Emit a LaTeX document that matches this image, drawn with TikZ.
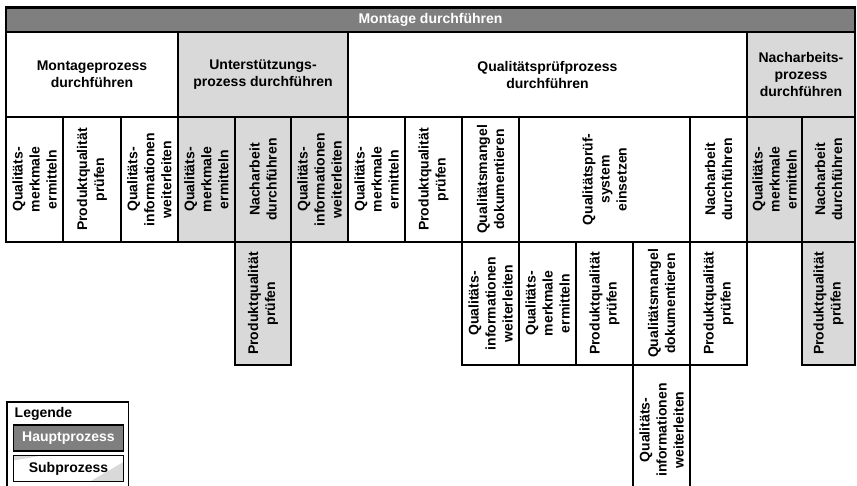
\documentclass[tikz,border=0pt]{standalone}
\usepackage{fontspec}
\setmainfont{Liberation Sans}
\definecolor{hauptgrau}{HTML}{7F7F7F}
\definecolor{subgrau}{HTML}{D9D9D9}

\tikzset{
  box/.style={draw=black, line width=1.7pt, inner sep=0pt, align=center,
              font=\bfseries\fontsize{14}{17}\selectfont},
  plain/.style={box, fill=white},
  shaded/.style={box, fill=subgrau},
  mainbar/.style={box, fill=hauptgrau, text=white},
}

% horizontal cell: name, style, x1, x2, y1, y2, text
\newcommand\hcell[7]{%
  \pgfmathsetmacro\cellcx{(#3+#4)/2}%
  \pgfmathsetmacro\cellcy{(#5+#6)/2}%
  \pgfmathsetmacro\cellw{#4-#3}%
  \pgfmathsetmacro\cellh{#6-#5}%
  \node[#2, minimum width=\cellw pt, minimum height=\cellh pt] (#1) at (\cellcx,\cellcy) {#7};}
% vertical cell with text read from bottom to top
\newcommand\vcell[7]{%
  \pgfmathsetmacro\cellcx{(#3+#4)/2}%
  \pgfmathsetmacro\cellcy{(#5+#6)/2}%
  \pgfmathsetmacro\cellw{#4-#3}%
  \pgfmathsetmacro\cellh{#6-#5}%
  \node[#2, rotate=90, minimum width=\cellh pt, minimum height=\cellw pt] (#1) at (\cellcx,\cellcy) {#7};}

\begin{document}
\begin{tikzpicture}[x=1pt, y=-1pt]
\useasboundingbox (0,0) rectangle (857,486);
\clip (0,0) rectangle (857,486);
\fill[white] (0,0) rectangle (857,486);

% level 1
\hcell{top}{mainbar}{6}{855}{8}{32}{Montage durchführen}
\draw[line width=2.6pt] (top.north west) -- (top.north east);

% level 2
\hcell{montage}{plain}{6}{178}{32}{117}{Montageprozess\\durchführen}
\hcell{unterst}{shaded}{178}{348}{32}{117}{Unterstützungs-\\prozess durchführen}
\hcell{pruef}{plain}{348}{747}{32}{117}{Qualitätsprüfprozess\\durchführen}
\hcell{nacharb}{shaded}{747}{855}{32}{117}{Nacharbeits-\\prozess\\durchführen}

% level 3
\vcell{ma}{plain}{6}{63.3}{117}{242}{Qualitäts-\\merkmale\\ermitteln}
\vcell{mb}{plain}{63.3}{120.7}{117}{242}{Produktqualität\\prüfen}
\vcell{mc}{plain}{120.7}{178}{117}{242}{Qualitäts-\\informationen\\weiterleiten}
\vcell{ua}{shaded}{178}{234.7}{117}{242}{Qualitäts-\\merkmale\\ermitteln}
\vcell{ub}{shaded}{234.7}{291.3}{117}{242}{Nacharbeit\\durchführen}
\vcell{uc}{shaded}{291.3}{348}{117}{242}{Qualitäts-\\informationen\\weiterleiten}
\vcell{pa}{plain}{348}{405}{117}{242}{Qualitäts-\\merkmale\\ermitteln}
\vcell{pb}{plain}{405}{462}{117}{242}{Produktqualität\\prüfen}
\vcell{pc}{plain}{462}{519}{117}{242}{Qualitätsmangel\\dokumentieren}
\vcell{pd}{plain}{519}{690}{117}{242}{Qualitätsprüf-\\system\\einsetzen}
\vcell{pe}{plain}{690}{747}{117}{242}{Nacharbeit\\durchführen}
\vcell{na}{shaded}{747}{802}{117}{242}{Qualitäts-\\merkmale\\ermitteln}
\vcell{nb}{shaded}{802}{855}{117}{242}{Nacharbeit\\durchführen}

% level 4
\vcell{uba}{shaded}{234.7}{291.3}{242}{365}{Produktqualität\\prüfen}
\vcell{pca}{plain}{462}{519}{242}{365}{Qualitäts-\\informationen\\weiterleiten}
\vcell{pda}{plain}{519}{576}{242}{365}{Qualitäts-\\merkmale\\ermitteln}
\vcell{pdb}{plain}{576}{633}{242}{365}{Produktqualität\\prüfen}
\vcell{pdc}{plain}{633}{690}{242}{365}{Qualitätsmangel\\dokumentieren}
\vcell{pea}{plain}{690}{747}{242}{365}{Produktqualität\\prüfen}
\vcell{nba}{shaded}{802}{855}{242}{365}{Produktqualität\\prüfen}

% level 5
\vcell{pdca}{plain}{633}{690}{365}{495}{Qualitäts-\\informationen\\weiterleiten}

% legend
\draw[line width=1.7pt, fill=white] (7,402) rectangle (128.5,500);
\node[anchor=base west, inner sep=0pt, font=\bfseries\fontsize{14}{17}\selectfont] (legtitle) at (14.5,417) {Legende};
\hcell{leghaupt}{mainbar}{13.5}{123.5}{425}{451}{Hauptprozess}
\fill[subgrau] (13.5,455.5) -- (42,455.5) -- (13.5,460.5) -- cycle;
\fill[subgrau] (123.5,462) -- (123.5,481.5) -- (90,481.5) -- cycle;
\hcell{legsub}{box}{13.5}{123.5}{455.5}{481.5}{Subprozess}
\end{tikzpicture}
\end{document}
